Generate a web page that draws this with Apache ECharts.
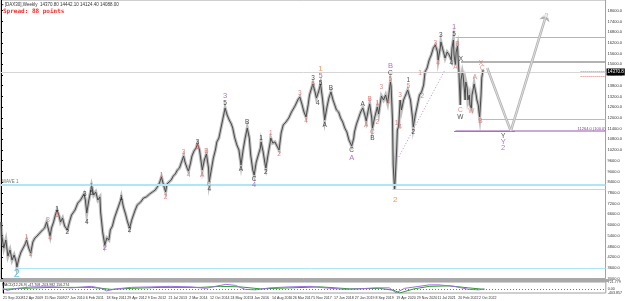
<!DOCTYPE html>
<html>
<head>
<meta charset="utf-8">
<script src="https://cdn.jsdelivr.net/npm/echarts@6/dist/echarts.min.js"></script>
<style>
html, body { margin: 0; padding: 0; background: #fff; }
#chart { width: 625px; height: 301px; }
</style>
</head>
<body>
<div id="chart"></div>
<script>
// weekly bars, x = bar index since 21 Sep 2008 (a date label every 30 bars)
const dateLabels = ['21 Sep 2008','12 Apr 2009','15 Nov 2009','27 Jun 2010','6 Feb 2011','18 Sep 2011',
  '29 Apr 2012','9 Dec 2012','21 Jul 2013','2 Mar 2014','12 Oct 2014','24 May 2015','3 Jan 2016',
  '14 Aug 2016','26 Mar 2017','5 Nov 2017','17 Jun 2018','27 Jan 2019','8 Sep 2019','19 Apr 2020',
  '29 Nov 2020','11 Jul 2021','20 Feb 2022','2 Oct 2022'];

const priceBar = [0,1,4,7,10,13,16,19,22,23,26,29,32,35,37,40,43,46,49,52,56,60,63,66,68,71,73,76,79,81,
  84,86,89,92,96,99,102,107,111,115,120,121,122,124,127,130,131,134,137,140,143,144,147,150,153,156,158,161,164,167,
  170,173,174,177,180,183,186,189,192,194,197,202,206,210,215,219,223,226,229,232,235,238,240,243,246,249,252,255,258,261,
  264,266,269,271,274,276,279,282,284,287,289,291,294,297,298,300,301,304,307,310,312,315,318,321,324,327,330,333,335,338,
  341,344,347,350,353,356,359,361,364,366,369,372,375,376,379,382,383,386,389,390,393,396,399,402,405,408,412,416,420,425,
  429,432,435,438,441,444,446,449,451,454,456,459,462,465,468,471,474,477,480,482,485,488,491,494,497,500,503,505,507,510,
  511,514,517,520,523,526,528,531,533,536,537,540,543,544,546,549,550,553,556,559,560,563,564,566,567,569,570,572,573,575,
  577,579,582,585,588,589,592,595,596,599,602,605,608,611,613,616,619,622,625,628,631,632,635,636,639,642,645,648,651,652,
  654,655,657,658,660,661,662,664,665,667,668,670,671,672,674,675,677,678,680,681,683,684,685,687,688,690,691,692,694,695,697];
const priceValue = [6170,5440,4710,5160,4260,4600,4040,4320,3930,3650,4150,4490,4710,4940,5160,4710,4430,5050,5270,5380,5550,5720,5830,6170,6220,5380,5830,6170,6620,6840,
  6500,6170,6390,5940,5720,6170,6560,6840,7230,7400,7740,7790,7400,6670,7400,7960,8180,7680,7850,7400,7570,6730,5610,4880,5270,5160,5720,5940,6390,6730,
  7060,7400,7570,7010,6620,6170,5830,6280,6620,6840,7120,7290,7510,7570,7740,7850,7960,8130,8350,8690,8240,7850,8300,8410,8520,8740,8860,9080,9190,9530,
  9860,9530,9190,9020,9470,9860,10140,10310,10540,10200,9640,9080,9640,9980,10090,9190,8410,9080,9750,10200,10650,10870,11430,11990,12550,12160,11880,11660,11430,10870,
  10480,10200,9360,10200,10870,11430,10870,9920,9080,8800,9530,9920,10310,10650,10090,9360,9190,9920,10590,10870,10590,10650,10420,10200,11150,11600,11770,11990,12330,12660,
  13000,13170,12780,12330,12050,12720,13280,13670,13900,13450,13110,13450,13900,13000,11880,12550,13110,13450,13000,12780,12440,12330,11990,11770,11430,11210,10760,10650,10420,10870,
  11210,11660,11990,12330,12550,12160,11820,12440,12780,11990,11430,11990,12440,12610,12220,13000,13220,13000,13280,12830,13110,14010,13780,11880,9360,7960,8630,10200,11320,11540,
  13000,12440,13000,13280,13560,13670,13000,11990,11490,12160,12720,13280,13450,13840,14570,14790,15240,15520,15910,16080,15690,15240,15910,16250,15800,15350,15690,15520,15240,15910,
  16360,15520,14960,15690,16020,15240,14570,12720,14120,14570,14400,13560,13000,14010,13670,13000,13280,12720,12550,13280,13670,13900,14010,13280,13000,12720,12330,12050,13280,14230,14680];

// MACD(12,26,9) pane
const macdBar = [0,6,20,42,71,99,128,143,150,164,186,215,243,272,294,308,323,337,351,366,387,416,445,467,495,517,539,560,570,582,603,618,632,654,675,690,698];
const macdMain = [71,-133,71,224,224,122,275,71,-184,20,173,224,275,224,71,275,479,377,-31,-82,122,224,275,122,-31,20,122,122,-388,71,275,428,428,275,-31,-82,20];
const signalBar = [0,27,71,128,157,186,229,287,315,344,373,416,460,503,546,567,575,596,618,647,675,698];
const macdSignal = [-31,71,173,173,-31,71,173,173,275,224,20,122,224,20,71,-133,-400,20,275,326,122,-31];
const macdTicks = [721.779, 0, -403.857];

// wave counts: [bar, price, label]
const wavesBlack = [[81,6900,'1'],[96,5610,'2'],[121,7740,'3'],[124,6170,'4'],[131,7790,'5'],[174,7510,'1'],[186,5720,'2'],
  [284,10650,'3'],[301,8020,'4'],[324,12830,'5'],[347,9140,'A'],[356,11770,'B'],[366,8580,'C'],[376,10870,'1'],[383,8970,'2'],
  [451,14230,'3'],[458,12830,'4'],[462,13950,'5'],[468,11600,'A'],[477,13670,'B'],[507,10200,'C'],[523,12780,'A'],[537,10870,'B'],
  [563,14520,'C'],[589,14120,'1'],[596,11210,'2'],[636,16640,'3'],[651,15070,'4'],[655,16700,'5'],[665,15300,'X'],[664,12050,'W'],
  [726,10980,'Y']];
const wavesRed = [[37,5330,'1'],[43,4380,'2'],[68,6280,'3'],[71,5270,'4'],[81,6560,'5'],[232,8800,'1'],[238,7570,'2'],[264,10090,'3'],
  [271,8800,'4'],[284,10370,'5'],[291,8800,'A'],[297,10140,'B'],[301,8300,'C'],[390,11150,'1'],[402,9980,'2'],[432,13390,'3'],
  [441,11820,'4'],[451,13900,'5'],[528,11600,'A'],[533,13060,'B'],[537,11210,'C'],[544,12830,'1'],[544,11770,'2'],[550,13730,'3'],
  [560,12890,'4'],[563,14180,'5'],[572,11710,'1'],[577,13280,'3'],[577,11490,'4'],[589,13780,'5'],[606,14520,'1'],[609,13220,'2'],
  [628,16190,'3'],[632,15070,'4'],[660,16140,'B'],[657,14850,'A'],[664,12440,'C'],[680,12380,'W'],[685,14290,'A'],[693,11820,'B'],
  [694,15070,'X'],[696,14790,'C']];
const wavesPurple = [[131,8180,'1'],[150,4710,'2'],[324,13220,'3'],[366,8240,'4'],[462,14340,'5'],[507,9750,'A'],[563,14900,'B'],
  [655,17090,'1'],[726,10650,'Y'],[726,10310,'2']];
const wavesOrange = [[462,14740,'1'],[570,7400,'2']];
const wavesCyan = [[23,3260,'2']];

// horizontal levels: start bar and price
const levelStart = [657, 665, 0, 690, 657, 0, 566, 23];
const levelValue = [16530, 15130, 14570, 11940, 11260, 8240, 8020, 3590];
const stopStart = [838, 838];
const stopValue = [14620, 14340];
const grayBoxBars = [655, 743];
const grayBoxValue = 11260;
// dotted trend line and projected path
const trendBar = [575, 641];
const trendValue = [9810, 14620];
const projBar = [703, 737, 789];
const projValue = [14790, 11260, 17870];

const XMAX = 874;
const FONT = '"Liberation Sans", Arial, sans-serif';

const levelStyle = [
  { color: '#c9a3d6', width: 1 },
  { color: '#9a9a9a', width: 1.5 },
  { color: '#d6d6d6', width: 1 },
  { color: '#f2a3a3', width: 1 },
  { color: '#b88cc8', width: 1.5 },
  { color: '#aee6f5', width: 2 },
  { color: '#f3c8ad', width: 1 },
  { color: '#aee6f5', width: 1 }
];

const levelLines = levelValue.map((v, i) => {
  const item = [
    { coord: [levelStart[i], v], lineStyle: Object.assign({ type: 'solid' }, levelStyle[i]) },
    { coord: [XMAX, v] }
  ];
  if (i === 5) item[0].label = { show: true, position: 'insideStartTop', formatter: 'WAVE 1', fontSize: 4.5, color: '#777', fontFamily: FONT, distance: 1 };
  if (i === 2) item[0].label = { show: true, position: 'end', formatter: '14370.8', fontSize: 4.5, color: '#fff', backgroundColor: '#000', padding: [1, 1], distance: 1, fontFamily: FONT };
  if (i === 4) item[0].label = { show: true, position: 'insideEndTop', formatter: '11264.0 (100.0)', fontSize: 4, color: '#7a3a8a', fontFamily: FONT, distance: 0 };
  return item;
});
stopValue.forEach((v, i) => {
  levelLines.push([{ coord: [stopStart[i], v], lineStyle: { color: '#f07a6a', width: 1, type: 'dotted' } }, { coord: [XMAX, v] }]);
});
levelLines.push([{ coord: [grayBoxBars[0], grayBoxValue], lineStyle: { color: '#8a8a8a', width: 1, type: 'solid' } }, { coord: [grayBoxBars[1], grayBoxValue] }]);
levelLines.push([{ coord: [trendBar[0], trendValue[0]], lineStyle: { color: '#c08ad0', width: 1, type: [1, 2] } }, { coord: [trendBar[1], trendValue[1]] }]);

function projSegments(width, color) {
  const segs = [];
  for (let i = 0; i < projBar.length - 1; i++) {
    segs.push([
      { coord: [projBar[i], projValue[i]], symbol: 'none', lineStyle: { color: color, width: width, type: 'solid' } },
      { coord: [projBar[i + 1], projValue[i + 1]], symbol: i === projBar.length - 2 ? 'arrow' : 'none', symbolSize: width > 2 ? 8 : 5 }
    ]);
  }
  return segs;
}

function waveSeries(data, color, size, weight) {
  return {
    type: 'scatter', xAxisIndex: 0, yAxisIndex: 0, data: data, symbolSize: 1, silent: true, z: 6,
    itemStyle: { color: 'rgba(0,0,0,0)' },
    label: { show: true, position: 'inside', formatter: p => p.data[2], color: color, fontSize: size, fontWeight: weight || 'normal', fontFamily: FONT }
  };
}

const priceData = priceBar.map((b, i) => [b, priceValue[i]]);

const chart = echarts.init(document.getElementById('chart'), null, { renderer: 'canvas' });
chart.setOption({
  animation: false,
  backgroundColor: '#fff',
  grid: [
    { left: 1, top: 0, width: 607, height: 278.6, show: true, borderColor: '#a0a0a0', borderWidth: 1, backgroundColor: 'transparent' },
    { left: 1, top: 282, width: 607, height: 11, show: true, borderColor: '#a0a0a0', borderWidth: 1 }
  ],
  xAxis: [
    { type: 'value', gridIndex: 0, min: 0, max: XMAX, show: false },
    {
      type: 'value', gridIndex: 1, min: 0, max: XMAX, interval: 30,
      axisLine: { show: false }, axisTick: { show: false }, splitLine: { show: false },
      axisLabel: { fontSize: 3.6, color: '#333', align: 'left', margin: 3, fontFamily: FONT, formatter: v => dateLabels[v / 30] || '' }
    }
  ],
  yAxis: [
    {
      type: 'value', gridIndex: 0, position: 'right', min: 3000, max: 18600, interval: 600,
      axisLine: { show: true, lineStyle: { color: '#000', width: 1 } },
      axisTick: { show: true, length: 2, lineStyle: { color: '#000' } },
      splitLine: { show: false },
      axisLabel: { fontSize: 4, color: '#333', margin: 2, fontFamily: FONT, showMaxLabel: false, formatter: v => v.toFixed(1) }
    },
    {
      type: 'value', gridIndex: 1, position: 'right', min: -404, max: 722,
      axisLine: { show: true, lineStyle: { color: '#000', width: 1 } },
      axisTick: { show: false }, splitLine: { show: false },
      axisLabel: { customValues: macdTicks, fontSize: 3.6, color: '#333', margin: 2, fontFamily: FONT, formatter: v => v === 0 ? '0.00' : String(v) }
    }
  ],
  graphic: [
    { type: 'rect', shape: { x: 0, y: 279, width: 609, height: 3 }, style: { fill: '#a9a9a9' }, z: 10 },
    { type: 'text', x: 2, y: 2, style: { text: '\u25aa [DAX30],Weekly  14370.80 14442.10 14124.40 14088.00', font: '4.5px ' + FONT, fill: '#333' }, z: 10 },
    { type: 'text', x: 3, y: 8, style: { text: 'Spread: 88 points', font: 'bold 6px "DejaVu Sans Mono", monospace', fill: '#ff2a2a' }, z: 10 },
    { type: 'text', x: 2, y: 283, style: { text: 'MACD(12,26,9) -47.708 -203.982 156.274', font: '3.6px ' + FONT, fill: '#333' }, z: 10 }
  ],
  series: [
    {
      type: 'line', xAxisIndex: 0, yAxisIndex: 0, data: [], silent: true, z: 2,
      markLine: { symbol: ['none', 'none'], silent: true, animation: false, label: { show: false }, data: levelLines }
    },
    {
      type: 'line', xAxisIndex: 0, yAxisIndex: 0, data: [], silent: true, z: 4,
      markLine: { symbol: ['none', 'none'], silent: true, animation: false, label: { show: false }, data: projSegments(2.5, '#b0b0b0') }
    },
    {
      type: 'line', xAxisIndex: 0, yAxisIndex: 0, data: [], silent: true, z: 4,
      markLine: { symbol: ['none', 'none'], silent: true, animation: false, label: { show: false }, data: projSegments(0.8, '#ececec') }
    },
    {
      type: 'line', xAxisIndex: 0, yAxisIndex: 0, silent: true, z: 3, symbol: 'none',
      data: priceData,
      lineStyle: { color: 'rgba(110,110,110,0.45)', width: 3.2, join: 'miter' }
    },
    {
      type: 'line', xAxisIndex: 0, yAxisIndex: 0, silent: true, z: 3, symbol: 'none',
      data: priceData,
      lineStyle: { color: '#4a4a4a', width: 1 }
    },
    waveSeries(wavesBlack, '#1a1a1a', 6.5),
    waveSeries(wavesRed, '#e06a6a', 6.5),
    waveSeries(wavesPurple, '#a04fb0', 7.5),
    waveSeries(wavesOrange, '#e8803a', 8),
    waveSeries(wavesCyan, '#33b8e8', 11),
    {
      type: 'line', xAxisIndex: 1, yAxisIndex: 1, silent: true, symbol: 'none', z: 3,
      data: signalBar.map((b, i) => [b, macdSignal[i]]),
      lineStyle: { color: '#2e9a2e', width: 1 },
      markLine: { symbol: ['none', 'none'], silent: true, label: { show: false },
        data: [[{ coord: [0, 0], lineStyle: { color: '#777', type: [1, 2], width: 1 } }, { coord: [XMAX, 0] }]] }
    },
    {
      type: 'line', xAxisIndex: 1, yAxisIndex: 1, silent: true, symbol: 'none', z: 4,
      data: macdBar.map((b, i) => [b, macdMain[i]]),
      lineStyle: { color: '#9b6fe0', width: 1 }
    }
  ]
});
</script>
</body>
</html>
